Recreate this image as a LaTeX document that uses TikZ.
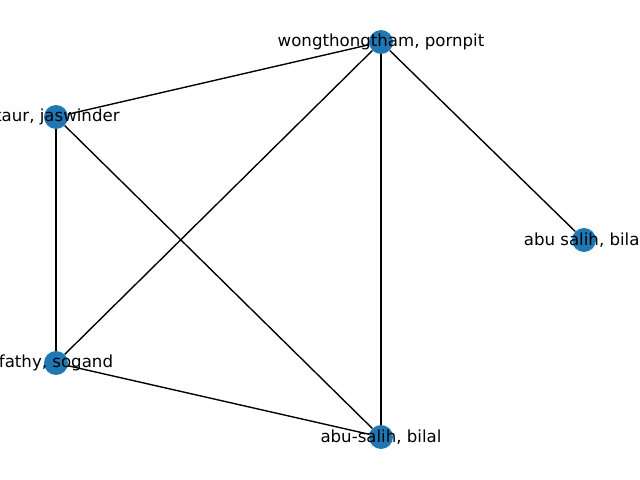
\documentclass[tikz,border=0pt]{standalone}
\usepackage{fontspec}
\setmainfont{DejaVu Sans}
\definecolor{nodeblue}{HTML}{1F77B4}
\begin{document}
\begin{tikzpicture}[x=0.01in,y=-0.01in]
    \clip (0,0) rectangle (640,480);
    \tikzstyle{every node}=[shape=circle,fill=nodeblue,minimum size=17.3pt,inner sep=0pt,font=\fontsize{12}{14}\selectfont];
    \tikzstyle{every label}=[shape=rectangle,fill=none,minimum size=0pt,inner sep=0pt,text=black];
    \tikzstyle{edge}=[draw,line width=1pt];
    \node at (381, 42)  (wp)  [label=center:{wongthongtham, pornpit}] {};
    \node at (56, 117)  (kj)  [label=center:{kaur, jaswinder}] {};
    \node at (584, 240) (asb) [label=center:{abu salih, bilal}] {};
    \node at (56, 363)  (fs)  [label=center:{fathy, sogand}] {};
    \node at (381, 437) (ab)  [label=center:{abu-salih, bilal}] {};

    \path[edge] (wp) to (kj);
    \path[edge] (wp) to (fs);
    \path[edge] (wp) to (ab);
    \path[edge] (wp) to (asb);
    \path[edge] (kj) to (fs);
    \path[edge] (kj) to (ab);
    \path[edge] (fs) to (ab);
\end{tikzpicture}
\end{document}
